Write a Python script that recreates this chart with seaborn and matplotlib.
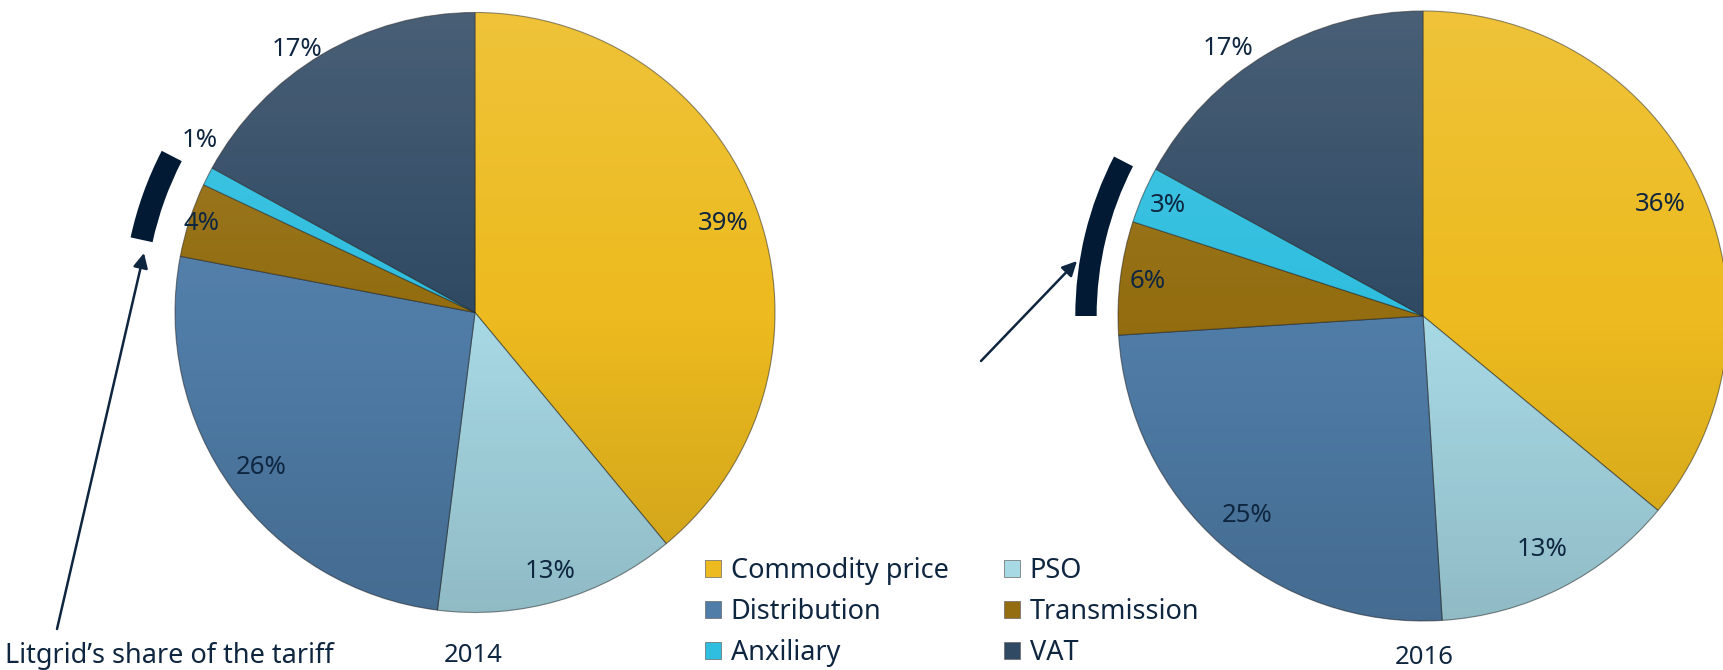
import numpy as np
import matplotlib
matplotlib.use("Agg")
import matplotlib.pyplot as plt
from matplotlib.patches import Wedge, Patch, Circle
import seaborn as sns

# tariff structure, % of final price
categories = ["Commodity price", "PSO", "Distribution", "Transmission", "Anxiliary", "VAT"]
shares_2014 = [39, 13, 26, 4, 1, 17]
shares_2016 = [36, 13, 25, 6, 3, 17]
years = ["2014", "2016"]
litgrid_parts = ["Transmission", "Anxiliary"]
note_text = "Litgrid\u2019s share of the tariff"

colors = ["#EDBB1F", "#A7D9E5", "#507DA8", "#936D10", "#2FBEDF", "#304A64"]
text_color = "#0F2640"
bracket_color = "#021A33"

sns.set_theme(style="white")
plt.rcParams["font.family"] = ["Noto Sans", "DejaVu Sans"]

W, H = 1724, 670
fig = plt.figure(figsize=(W / 100, H / 100), dpi=100)
ax = fig.add_axes([0, 0, 1, 1])

layout = [
    dict(values=shares_2014, center=(475, 357.5), r=300,
         label_r=[0.88, 0.90, 0.88, 0.96, 1.08, 1.06],
         label_turn=[0, 0, 0, 0, -5, 3.5],
         bracket=(1.10, 1.175), year_xy=(473, 14),
         arrow=((57, 41), (144, 417))),
    dict(values=shares_2016, center=(1423, 354), r=305,
         label_r=[0.86, 0.86, 0.87, 0.91, 0.91, 1.085],
         label_turn=[0, 0, 0, 0, 0, 5.5],
         bracket=(1.07, 1.14), year_xy=(1424, 12),
         arrow=((981, 309), (1077, 409))),
]

for year, cfg in zip(years, layout):
    cx, cy = cfg["center"]
    r = cfg["r"]
    wedges, _ = ax.pie(cfg["values"], colors=colors, startangle=90, counterclock=False,
                       center=(cx, cy), radius=r,
                       wedgeprops=dict(edgecolor=(0.1, 0.1, 0.1, 0.5), linewidth=0.8))

    # soft vertical shading to mimic the glossy look
    shade = np.zeros((256, 1, 4))
    t = np.linspace(0, 1, 256)
    shade[:, 0, :3] = np.where(t < 0.5, 1.0, 0.0)[:, None]
    shade[:, 0, 3] = np.where(t < 0.5, 0.12 * (1 - 2 * t), 0.14 * (2 * t - 1))
    im = ax.imshow(shade, extent=(cx - r, cx + r, cy - r, cy + r), aspect="auto",
                   interpolation="bilinear", zorder=3)
    im.set_clip_path(Circle((cx, cy), r, transform=ax.transData))

    for w, val, f, turn in zip(wedges, cfg["values"], cfg["label_r"], cfg["label_turn"]):
        mid = np.deg2rad((w.theta1 + w.theta2) / 2 + turn)
        ax.text(cx + f * r * np.cos(mid), cy + f * r * np.sin(mid), f"{val}%",
                ha="center", va="center", fontsize=18.5, color=text_color, zorder=5)

    # bracket marking Litgrid's part (transmission + auxiliary)
    idx = [categories.index(c) for c in litgrid_parts]
    t1 = min(wedges[i].theta1 for i in idx) + 1.5
    t2 = min(max(wedges[i].theta2 for i in idx) - 1.5, -180)
    inner, outer = cfg["bracket"]
    ax.add_patch(Wedge((cx, cy), outer * r, t1, t2, width=(outer - inner) * r,
                       facecolor=bracket_color, edgecolor="none", zorder=4))

    (x0, y0), (x1, y1) = cfg["arrow"]
    ax.annotate("", xy=(x1, y1), xytext=(x0, y0),
                arrowprops=dict(arrowstyle="-|>", color=text_color, lw=1.8,
                                mutation_scale=22, shrinkA=0, shrinkB=0), zorder=5)

    ax.text(*cfg["year_xy"], year, ha="center", va="center", fontsize=18.5, color=text_color)

ax.text(5, 14, note_text, ha="left", va="center", fontsize=19.5, color=text_color)

order = [0, 2, 4, 1, 3, 5]
handles = [Patch(facecolor=colors[i], edgecolor="#666666", linewidth=0.5, label=categories[i])
           for i in order]
leg = ax.legend(handles=handles, loc="upper left", bbox_to_anchor=(705, H - 557),
                bbox_transform=ax.transData, ncol=2, frameon=False, fontsize=19.5,
                borderpad=0, borderaxespad=0, handlelength=0.6, handleheight=0.6,
                handletextpad=0.35, labelspacing=0.48, columnspacing=2.05)
for txt in leg.get_texts():
    txt.set_color(text_color)

ax.set_xlim(0, W)
ax.set_ylim(0, H)
ax.set_aspect("equal")
ax.axis("off")

fig.savefig("out.png", dpi=100, facecolor="white")
